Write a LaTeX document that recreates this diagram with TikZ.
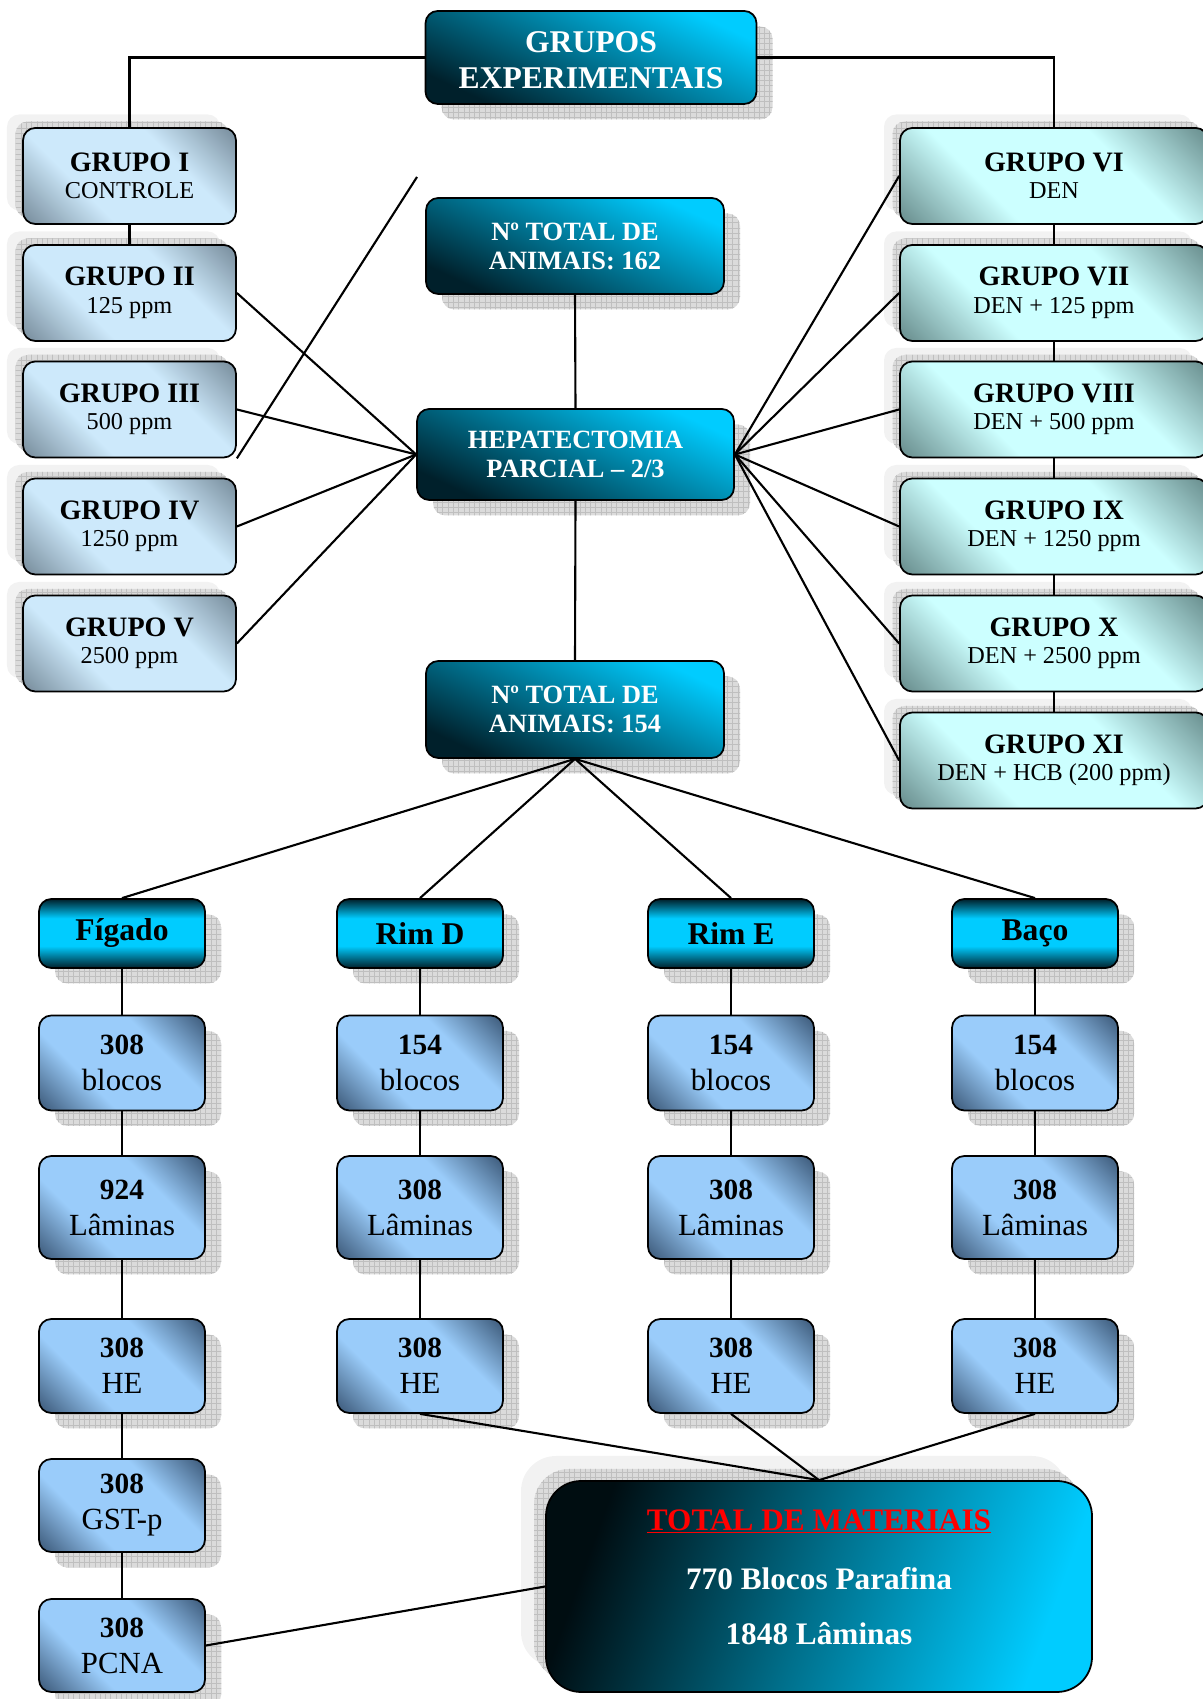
\documentclass[tikz,border=0pt]{standalone}
\usepackage{fontspec}
\setmainfont{Liberation Serif}
\usepackage{tikz}
\usetikzlibrary{shadows,patterns}

\definecolor{skycyan}{HTML}{00CCFF}
\definecolor{deepteal}{HTML}{00202B}
\definecolor{midteal}{HTML}{00708C}
\definecolor{mistblue}{HTML}{CDE9FB}
\definecolor{slateblue}{HTML}{6B7F8E}
\definecolor{mintaqua}{HTML}{CCFFFF}
\definecolor{duskteal}{HTML}{5A7D7D}
\definecolor{paleblue}{HTML}{9ACCFA}
\definecolor{inkblue}{HTML}{2E4866}

\pgfdeclareverticalshading{mistshade}{100bp}{color(0bp)=(slateblue); color(12bp)=(slateblue); color(36bp)=(mistblue); color(64bp)=(mistblue); color(88bp)=(slateblue); color(100bp)=(slateblue)}
\pgfdeclareverticalshading{mintshade}{100bp}{color(0bp)=(duskteal); color(12bp)=(duskteal); color(36bp)=(mintaqua); color(64bp)=(mintaqua); color(88bp)=(duskteal); color(100bp)=(duskteal)}
\pgfdeclareverticalshading{paleshade}{100bp}{color(0bp)=(inkblue); color(12bp)=(inkblue); color(36bp)=(paleblue); color(64bp)=(paleblue); color(88bp)=(inkblue); color(100bp)=(inkblue)}
\pgfdeclareverticalshading{organshade}{100bp}{color(0bp)=(deepteal); color(25bp)=(deepteal); color(41bp)=(skycyan); color(61bp)=(skycyan); color(75bp)=(deepteal); color(100bp)=(deepteal)}

\tikzset{
    grid shadow/.style 2 args={
        general shadow={shadow xshift=#1, shadow yshift=#2, fill=gray!28},
        general shadow={shadow xshift=#1, shadow yshift=#2, pattern=grid, pattern color=gray!50}
    }
}

\newcommand{\gtitle}[1]{{\fontsize{16}{16}\selectfont\bfseries #1}}
\newcommand{\cnum}[1]{{\fontsize{16.7}{20}\selectfont\bfseries #1}}

\begin{document}
\begin{tikzpicture}
    \tikzstyle{head box}=[
        draw = black,
        line width = 1pt,
        rounded corners = 7pt,
        top color = skycyan,
        bottom color = deepteal,
        shading angle = -25,
        text = white,
        align = center,
        font = \bfseries\fontsize{15}{16.5}\selectfont,
        minimum width = 5.96cm,
        minimum height = 1.92cm,
        grid shadow = {0.32cm}{-0.31cm}
    ]
    \tikzstyle{left box}=[
        draw = black,
        line width = 1pt,
        rounded corners = 7pt,
        shading = mistshade,
        shading angle = -45,
        align = center,
        font = \fontsize{13.8}{15.6}\selectfont,
        minimum width = 4.26cm,
        minimum height = 1.92cm,
        general shadow = {shadow xshift=-0.32cm, shadow yshift=0.27cm, fill=gray!10},
        grid shadow = {-0.15cm}{0.13cm}
    ]
    \tikzstyle{right box}=[
        left box,
        shading = mintshade,
        shading angle = -45,
        minimum width = 6.16cm
    ]
    \tikzstyle{organ box}=[
        draw = black,
        line width = 1pt,
        rounded corners = 7pt,
        shading = organshade,
        font = \bfseries\fontsize{18}{20}\selectfont,
        minimum width = 3.32cm,
        minimum height = 1.38cm,
        grid shadow = {0.32cm}{-0.31cm}
    ]
    \tikzstyle{count box}=[
        draw = black,
        line width = 1pt,
        rounded corners = 7pt,
        shading = paleshade,
        shading angle = -45,
        align = center,
        font = \fontsize{17.5}{20.5}\selectfont,
        minimum width = 3.32cm,
        minimum height = 1.9cm,
        grid shadow = {0.32cm}{-0.31cm}
    ]
    \tikzstyle{total box}=[
        draw = black,
        line width = 1pt,
        rounded corners = 20pt,
        left color = deepteal!40!black,
        right color = skycyan,
        middle color = midteal,
        shading angle = 70,
        text = white,
        align = center,
        font = \bfseries\fontsize{17.8}{31}\selectfont,
        minimum width = 10.92cm,
        minimum height = 4.22cm,
        general shadow = {shadow xshift=-0.5cm, shadow yshift=0.5cm, fill=gray!10},
        grid shadow = {-0.24cm}{0.24cm}
    ]

    \useasboundingbox (0, 0) rectangle (24.04, 33.98);

    \node[head box, minimum width=6.62cm, minimum height=1.86cm,
          font=\bfseries\fontsize{18}{20.5}\selectfont] (ge) at (11.82, 32.83) {\mbox{}\\[-6pt]GRUPOS\\EXPERIMENTAIS};

    \node[left box]  (g1)  at (2.59, 30.46)  {\gtitle{GRUPO I}\\CONTROLE};
    \node[left box]  (g2)  at (2.59, 28.12)  {\gtitle{GRUPO II}\\125 ppm};
    \node[left box]  (g3)  at (2.59, 25.79)  {\gtitle{GRUPO III}\\500 ppm};
    \node[left box]  (g4)  at (2.59, 23.45)  {\gtitle{GRUPO IV}\\1250 ppm};
    \node[left box]  (g5)  at (2.59, 21.11)  {\gtitle{GRUPO V}\\2500 ppm};

    \node[right box] (g6)  at (21.08, 30.46) {\gtitle{GRUPO VI}\\DEN};
    \node[right box] (g7)  at (21.08, 28.12) {\gtitle{GRUPO VII}\\DEN + 125 ppm};
    \node[right box] (g8)  at (21.08, 25.79) {\gtitle{GRUPO VIII}\\DEN + 500 ppm};
    \node[right box] (g9)  at (21.08, 23.45) {\gtitle{GRUPO IX}\\DEN + 1250 ppm};
    \node[right box] (g10) at (21.08, 21.11) {\gtitle{GRUPO X}\\DEN + 2500 ppm};
    \node[right box] (g11) at (21.08, 18.77) {\gtitle{GRUPO XI}\\DEN + HCB (200 ppm)};

    \node[head box] (n1) at (11.5, 29.06) {Nº TOTAL DE\\ANIMAIS: 162};
    \node[head box, minimum width=6.34cm, minimum height=1.82cm] (hp) at (11.51, 24.89) {HEPATECTOMIA\\PARCIAL – 2/3};
    \node[head box, minimum height=1.94cm] (n2) at (11.5, 19.79) {Nº TOTAL DE\\ANIMAIS: 154};
    \coordinate (cut) at (8.34, 30.44);

    \node[organ box] (fi) at (2.44, 15.31) {Fígado};
    \node[organ box] (rd) at (8.4, 15.31)  {Rim D};
    \node[organ box] (re) at (14.62, 15.31) {Rim E};
    \node[organ box] (ba) at (20.7, 15.31) {Baço};

    \node[count box] (fi1) at (2.44, 12.72) {\cnum{308}\\blocos};
    \node[count box, minimum height=2.06cm] (fi2) at (2.44, 9.83) {\cnum{924}\\Lâminas};
    \node[count box, minimum height=1.88cm] (fi3) at (2.44, 6.66) {\cnum{308}\\HE};
    \node[count box, minimum height=1.86cm] (fi4) at (2.44, 3.87) {\cnum{308}\\GST-p};
    \node[count box, minimum height=1.86cm] (fi5) at (2.44, 1.07) {\cnum{308}\\PCNA};

    \node[count box] (rd1) at (8.4, 12.72) {\cnum{154}\\blocos};
    \node[count box, minimum height=2.06cm] (rd2) at (8.4, 9.83) {\cnum{308}\\Lâminas};
    \node[count box, minimum height=1.88cm] (rd3) at (8.4, 6.66) {\cnum{308}\\HE};

    \node[count box] (re1) at (14.62, 12.72) {\cnum{154}\\blocos};
    \node[count box, minimum height=2.06cm] (re2) at (14.62, 9.83) {\cnum{308}\\Lâminas};
    \node[count box, minimum height=1.88cm] (re3) at (14.62, 6.66) {\cnum{308}\\HE};

    \node[count box] (ba1) at (20.7, 12.72) {\cnum{154}\\blocos};
    \node[count box, minimum height=2.06cm] (ba2) at (20.7, 9.83) {\cnum{308}\\Lâminas};
    \node[count box, minimum height=1.88cm] (ba3) at (20.7, 6.66) {\cnum{308}\\HE};

    \node[total box] (tot) at (16.38, 2.25) {\textcolor{red}{\underline{TOTAL DE MATERIAIS}}\\[3pt]770 Blocos Parafina\\1848 Lâminas\\[-20pt]\mbox{}};

    \draw[-, very thick] (ge.west) -| (g1.north);
    \draw[-, very thick] (ge.east) -| (g6.north);
    \path[-, very thick] (g1.south) edge (g2.north);
    \path[-, very thick] (g6.south) edge (g7.north);
    \path[-, very thick] (g7.south) edge (g8.north);
    \path[-, very thick] (g8.south) edge (g9.north);
    \path[-, very thick] (g9.south) edge (g10.north);
    \path[-, very thick] (g10.south) edge (g11.north);

    \path[-, very thick] (n1.south) edge (hp.north);
    \path[-, very thick] (hp.south) edge (n2.north);
    \path[-, very thick] (g3.south east) edge (cut);
    \path[-, very thick] (hp.west) edge (g2.east);
    \path[-, very thick] (hp.west) edge (g3.east);
    \path[-, very thick] (hp.west) edge (g4.east);
    \path[-, very thick] (hp.west) edge (g5.east);
    \path[-, very thick] (hp.east) edge (g6.west);
    \path[-, very thick] (hp.east) edge (g7.west);
    \path[-, very thick] (hp.east) edge (g8.west);
    \path[-, very thick] (hp.east) edge (g9.west);
    \path[-, very thick] (hp.east) edge (g10.west);
    \path[-, very thick] (hp.east) edge (g11.west);

    \path[-, very thick] (n2.south) edge (fi.north);
    \path[-, very thick] (n2.south) edge (rd.north);
    \path[-, very thick] (n2.south) edge (re.north);
    \path[-, very thick] (n2.south) edge (ba.north);

    \path[-, very thick] (fi.south) edge (fi1.north);
    \path[-, very thick] (fi1.south) edge (fi2.north);
    \path[-, very thick] (fi2.south) edge (fi3.north);
    \path[-, very thick] (fi3.south) edge (fi4.north);
    \path[-, very thick] (fi4.south) edge (fi5.north);
    \path[-, very thick] (rd.south) edge (rd1.north);
    \path[-, very thick] (rd1.south) edge (rd2.north);
    \path[-, very thick] (rd2.south) edge (rd3.north);
    \path[-, very thick] (re.south) edge (re1.north);
    \path[-, very thick] (re1.south) edge (re2.north);
    \path[-, very thick] (re2.south) edge (re3.north);
    \path[-, very thick] (ba.south) edge (ba1.north);
    \path[-, very thick] (ba1.south) edge (ba2.north);
    \path[-, very thick] (ba2.south) edge (ba3.north);

    \path[-, very thick] (rd3.south) edge (tot.north);
    \path[-, very thick] (re3.south) edge (tot.north);
    \path[-, very thick] (ba3.south) edge (tot.north);
    \path[-, very thick] (fi5.east) edge (tot.west);

\end{tikzpicture}
\end{document}
